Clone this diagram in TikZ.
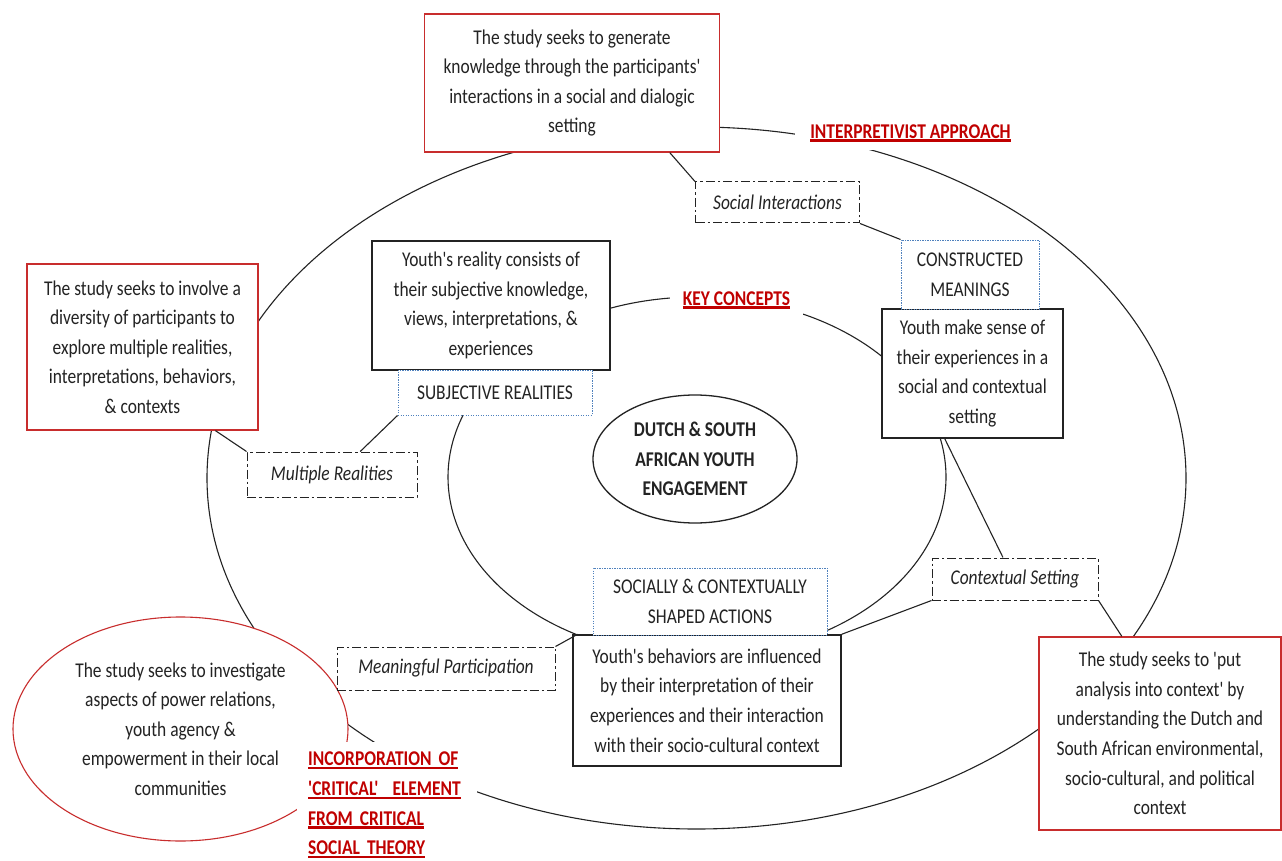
\documentclass[tikz,border=0pt]{standalone}
\usepackage{fontspec}
\setmainfont{Carlito}[Ligatures=TeXOff, FakeStretch=0.83]
\usetikzlibrary{shapes.geometric,calc}
\definecolor{boxred}{RGB}{200,45,45}
\definecolor{labred}{RGB}{192,0,0}
\definecolor{dotblue}{RGB}{79,129,189}
\definecolor{ink}{RGB}{35,35,35}
% thick underline for the red headings
\newcommand\redul[1]{\leavevmode\setbox0=\hbox{#1}\rlap{\rule[-3.4pt]{\wd0}{2.2pt}}\box0}
\newcommand\bodyfont{\fontsize{21}{29.6}\selectfont}
\tikzset{
  txt/.style={font=\bodyfont, align=center, inner sep=0pt, text=ink},
  sz/.style 2 args={minimum width=#1pt, minimum height=#2pt},
  redbox/.style={txt, rectangle, draw=boxred, line width=1.3pt, fill=white},
  blkbox/.style={txt, rectangle, draw=ink, line width=1.5pt, fill=white},
  dotbox/.style={txt, rectangle, draw=dotblue, line width=1pt, dash pattern=on 1.1pt off 1.4pt, fill=white},
  dashbox/.style={txt, rectangle, draw=ink, line width=1pt,
    dash pattern=on 9pt off 3pt on 2.5pt off 3pt, fill=white,
    font=\bodyfont\itshape},
  keylbl/.style={font=\bodyfont\bfseries, text=labred, fill=white, inner sep=0pt},
  ring/.style={draw=ink, line width=1.1pt},
  link/.style={draw=ink, line width=1.1pt}
}
\begin{document}
\begin{tikzpicture}[x=1pt, y=-1pt]
\fill[white] (0,0) rectangle (1282,861);
\useasboundingbox (0,0) rectangle (1282,861);

% the two framing ellipses
\draw[ring] (696.5,478) ellipse [x radius=489.5pt, y radius=351pt];
\draw[ring] (697,477) ellipse [x radius=249pt, y radius=180pt];

% critical element ellipse and its heading
\node[txt, ellipse, draw=boxred, line width=1.1pt, fill=white, sz={335}{224}] (crit) at (180.5,729)
  {The study seeks to investigate\\ aspects of power relations,\\ youth agency \&\\ empowerment in their local\\ communities};
\node[keylbl, anchor=north west, text width=158pt, inner xsep=11pt, inner ysep=10pt, align=left] (incorp) at (297,742)
  {\redul{INCORPORATION OF}\\ \redul{'CRITICAL'\ \ ELEMENT}\\ \redul{FROM CRITICAL}\\ \redul{SOCIAL THEORY}};

% headings on the ellipses
\node[keylbl, sz={231}{35}] (interp) at (910.5,133) {\redul{INTERPRETIVIST APPROACH}};
\node[keylbl, sz={133}{32}] (keyc) at (736.5,300) {\redul{KEY CONCEPTS}};

% study aims
\node[redbox, sz={295}{138}] (tbox) at (572,83)
  {The study seeks to generate\\ knowledge through the participants'\\ interactions in a social and dialogic\\ setting};
\node[redbox, sz={231}{166}] (lbox) at (142.5,347)
  {The study seeks to involve a\\ diversity of participants to\\ explore multiple realities,\\ interpretations, behaviors,\\ \& contexts};
\node[redbox, sz={242}{193}] (rbox) at (1160,733.5)
  {The study seeks to 'put\\ analysis into context' by\\ understanding the Dutch and\\ South African environmental,\\ socio-cultural, and political\\ context};

% key concepts
\node[blkbox, sz={238}{129}] (yr) at (491,305.5)
  {Youth's reality consists of\\ their subjective knowledge,\\ views, interpretations, \&\\ experiences};
\node[blkbox, sz={181}{129}] (yms) at (972.5,373.5)
  {Youth make sense of\\ their experiences in a\\ social and contextual\\ setting};
\node[blkbox, sz={268}{131}] (yb) at (707,700.5)
  {Youth's behaviors are influenced\\ by their interpretation of their\\ experiences and their interaction\\ with their socio-cultural context};
\node[dotbox, sz={194}{45}] (sr) at (495,392.5) {SUBJECTIVE REALITIES};
\node[dotbox, sz={138}{69}] (cm) at (970,274.5) {CONSTRUCTED\\ MEANINGS};
\node[dotbox, sz={234}{67}] (sca) at (710,601.5) {SOCIALLY \& CONTEXTUALLY\\ SHAPED ACTIONS};

% link themes
\node[dashbox, sz={164}{41}] (si) at (777.5,202.5) {Social Interactions};
\node[dashbox, sz={170}{45}] (mr) at (332,474.5) {Multiple Realities};
\node[dashbox, sz={166}{42}] (cs) at (1015,579) {Contextual Setting};
\node[dashbox, sz={218}{43}] (mp) at (446,668.5) {Meaningful Participation};

% centre
\node[txt, ellipse, draw=ink, line width=1.3pt, fill=white, sz={204}{128},
  font=\bodyfont\bfseries] (core) at (695,459)
  {DUTCH \& SOUTH\\ AFRICAN YOUTH\\ ENGAGEMENT};

% connectors
\draw[link] ($(tbox.south west)!0.83!(tbox.south east)$) -- (si.north west);
\draw[link] (si.south east) -- (cm.north west);
\draw[link] ($(lbox.south west)!0.814!(lbox.south east)$) -- (mr.north west);
\draw[link] ($(mr.north west)!0.665!(mr.north east)$) -- (sr.south west);
\draw[link] ($(yms.south west)!0.348!(yms.south east)$) -- ($(cs.north west)!0.428!(cs.north east)$);
\draw[link] (cs.south east) -- ($(rbox.north west)!0.343!(rbox.north east)$);
\draw[link] (cs.south west) -- (yb.north east);
\draw[link] (mp.north east) -- ($(yb.north west)!0.02!(yb.north east)$);
\end{tikzpicture}
\end{document}
